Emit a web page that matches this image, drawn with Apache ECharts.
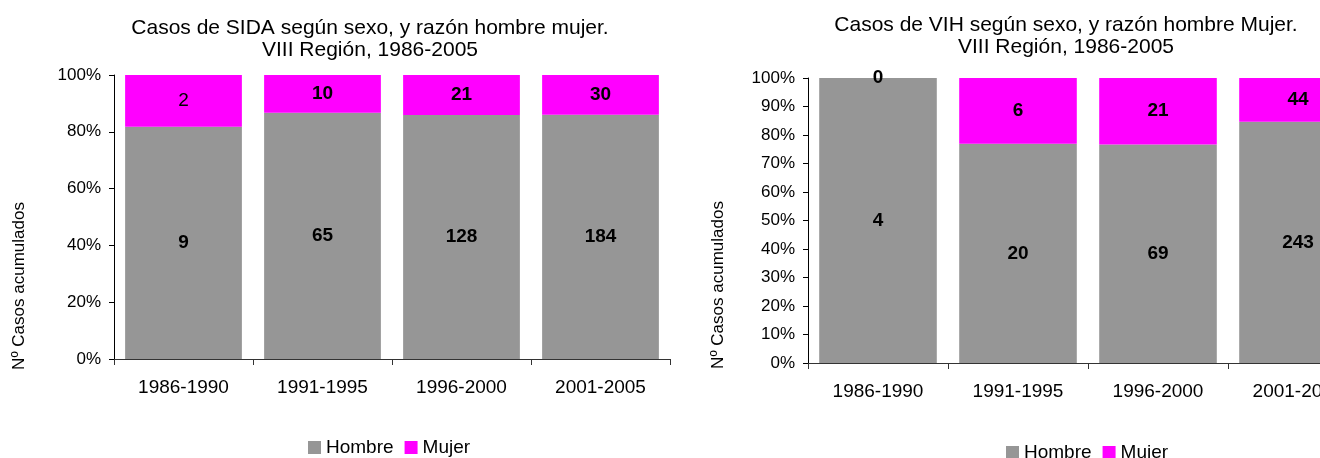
<!DOCTYPE html>
<html>
<head>
<meta charset="utf-8">
<script src="https://cdn.jsdelivr.net/npm/echarts@6/dist/echarts.min.js"></script>
<style>
  html, body { margin: 0; padding: 0; background: #fff; overflow: hidden; }
  #chart { width: 1400px; height: 458px; }
</style>
</head>
<body>
<div id="chart"></div>
<script>
const periods = ["1986-1990", "1991-1995", "1996-2000", "2001-2005"];

// SIDA, casos acumulados
const sidaHombre = [9, 65, 128, 184];
const sidaMujer = [2, 10, 21, 30];

// VIH, casos acumulados
const vihHombre = [4, 20, 69, 243];
const vihMujer = [0, 6, 21, 44];

const FONT = "Liberation Sans, Arial, sans-serif";
const GRAY = "#969696";
const PINK = "#ff00ff";

// share of each sex in the period, in %
const share = (a, b) => a.map((v, i) => (v * 100) / (v + b[i]));

const chart = echarts.init(document.getElementById("chart"));

const yAxisBase = (gridIndex, interval) => ({
  gridIndex,
  type: "value",
  min: 0,
  max: 100,
  interval,
  splitLine: { show: false },
  axisLine: { show: true, lineStyle: { color: "#000" } },
  axisTick: { show: true, length: 5, lineStyle: { color: "#000" } },
  axisLabel: {
    formatter: "{value}%",
    color: "#000",
    fontSize: 17,
    fontFamily: FONT,
    margin: 13
  }
});

const xAxisBase = (gridIndex) => ({
  gridIndex,
  type: "category",
  data: periods,
  axisLine: { lineStyle: { color: "#333" } },
  axisTick: { show: true, length: 6, lineStyle: { color: "#333" } },
  axisLabel: { color: "#000", fontSize: 19, fontFamily: FONT, margin: 19 }
});

const barLabel = (counts) => ({
  show: true,
  position: "inside",
  color: "#000",
  fontSize: 19,
  fontWeight: "bold",
  fontFamily: FONT,
  formatter: (p) => counts[p.dataIndex]
});

const sidaMujerData = share(sidaMujer, sidaHombre).map((v, i) =>
  i === 0 ? { value: v, label: { fontWeight: "normal" } } : v
);

const titleStyle = { fontSize: 21, fontWeight: "normal", color: "#000", fontFamily: FONT, lineHeight: 22 };
const legendBase = {
  data: ["Hombre", "Mujer"],
  padding: 0,
  icon: "rect",
  itemWidth: 13,
  itemHeight: 13,
  itemGap: 11,
  textStyle: { fontSize: 19, color: "#000", fontFamily: FONT }
};
const axisName = (x, y) => ({
  type: "text",
  x,
  y,
  rotation: Math.PI / 2,
  style: {
    text: "Nº Casos acumulados",
    fontSize: 17,
    fontFamily: FONT,
    fill: "#000",
    align: "center",
    verticalAlign: "middle"
  }
});

const option = {
  animation: false,
  title: [
    {
      text: "Casos de SIDA según sexo, y razón hombre mujer.\nVIII Región, 1986-2005",
      left: 370,
      top: 17,
      textAlign: "center",
      padding: 0,
      textStyle: titleStyle
    },
    {
      text: "Casos de VIH según sexo, y razón hombre Mujer.\nVIII Región, 1986-2005",
      left: 1066,
      top: 14,
      textAlign: "center",
      padding: 0,
      textStyle: titleStyle
    }
  ],
  legend: [
    Object.assign({ left: 308, top: 438 }, legendBase),
    Object.assign({ left: 1006, top: 443 }, legendBase)
  ],
  graphic: [axisName(19, 286), axisName(718, 285)],
  grid: [
    { left: 114, top: 75, width: 556, height: 284 },
    { left: 808, top: 78, width: 560, height: 285 }
  ],
  xAxis: [xAxisBase(0), xAxisBase(1)],
  yAxis: [yAxisBase(0, 20), yAxisBase(1, 10)],
  series: [
    {
      name: "Hombre",
      type: "bar",
      stack: "sida",
      xAxisIndex: 0,
      yAxisIndex: 0,
      barCategoryGap: "16%",
      itemStyle: { color: GRAY },
      label: barLabel(sidaHombre),
      data: share(sidaHombre, sidaMujer)
    },
    {
      name: "Mujer",
      type: "bar",
      stack: "sida",
      xAxisIndex: 0,
      yAxisIndex: 0,
      barCategoryGap: "16%",
      itemStyle: { color: PINK },
      label: barLabel(sidaMujer),
      data: sidaMujerData
    },
    {
      name: "Hombre",
      type: "bar",
      stack: "vih",
      xAxisIndex: 1,
      yAxisIndex: 1,
      barCategoryGap: "16%",
      itemStyle: { color: GRAY },
      label: barLabel(vihHombre),
      data: share(vihHombre, vihMujer)
    },
    {
      name: "Mujer",
      type: "bar",
      stack: "vih",
      xAxisIndex: 1,
      yAxisIndex: 1,
      barCategoryGap: "16%",
      itemStyle: { color: PINK },
      label: barLabel(vihMujer),
      data: share(vihMujer, vihHombre)
    }
  ]
};

chart.setOption(option);
</script>
</body>
</html>
